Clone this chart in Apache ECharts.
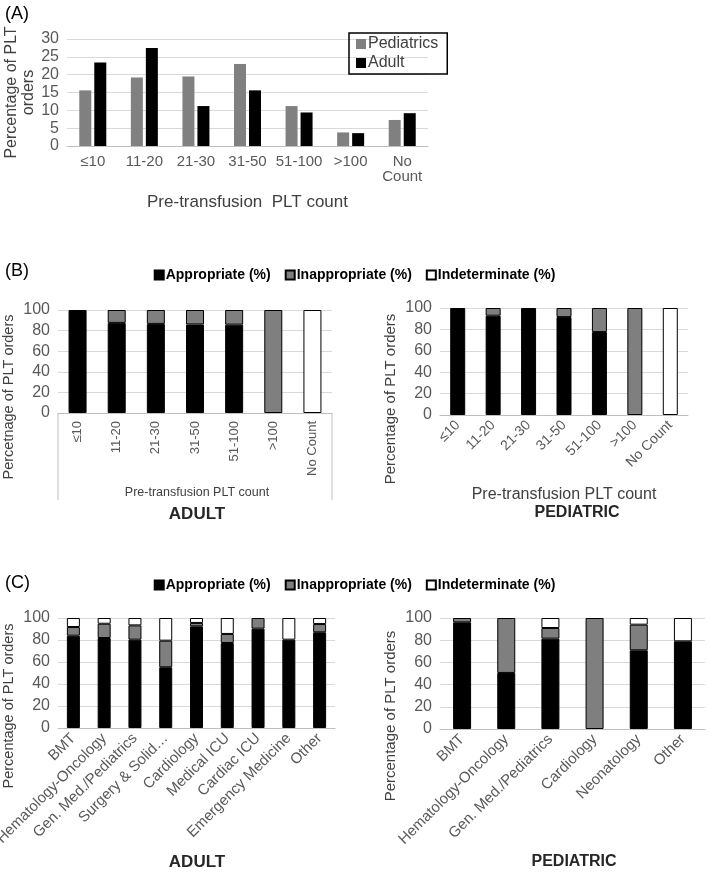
<!DOCTYPE html>
<html>
<head>
<meta charset="utf-8">
<script src="https://cdn.jsdelivr.net/npm/echarts@6/dist/echarts.min.js"></script>
<style>
  html, body { margin: 0; padding: 0; background: #fff; }
  #main { width: 709px; height: 872px; }
</style>
</head>
<body>
<div id="main"></div>
<script>
// panel A
const countCats = ['≤10', '11-20', '21-30', '31-50', '51-100', '>100', 'No\nCount'];
const pediatricPct = [15.6, 19.2, 19.5, 23.0, 11.2, 3.8, 7.3];
const adultPct = [23.4, 27.5, 11.2, 15.6, 9.4, 3.6, 9.2];

// panel B
const countCatsB = ['≤10', '11-20', '21-30', '31-50', '51-100', '>100', 'No Count'];
const adultCountApp = [100, 87.5, 86.5, 86, 85.8, 0, 0];
const adultCountInapp = [0, 12.5, 13.5, 14, 14.2, 100, 0];
const adultCountIndet = [0, 0, 0, 0, 0, 0, 100];
const pedCountApp = [100, 92.8, 100, 91.5, 77.5, 0, 0];
const pedCountInapp = [0, 7.2, 0, 8.5, 22.5, 100, 0];
const pedCountIndet = [0, 0, 0, 0, 0, 0, 100];

// panel C
const adultServices = ['BMT', 'Hematology-Oncology', 'Gen. Med./Pediatrics', 'Surgery & Solid…', 'Cardiology', 'Medical ICU', 'Cardiac ICU', 'Emergency Medicine', 'Other'];
const adultSvcApp = [83.9, 81.8, 80.3, 55.2, 92.4, 77.3, 90.3, 80.3, 87];
const adultSvcInapp = [7.9, 13, 13, 24.2, 3.1, 8.2, 9.7, 0, 7.5];
const adultSvcIndet = [8.2, 5.2, 6.7, 20.6, 4.5, 14.5, 0, 19.7, 5.5];
const pedServices = ['BMT', 'Hematology-Oncology', 'Gen. Med./Pediatrics', 'Cardiology', 'Neonatology', 'Other'];
const pedSvcApp = [96.1, 50.5, 81.4, 0, 70.9, 79];
const pedSvcInapp = [3.9, 49.5, 9.6, 100, 23.1, 0];
const pedSvcIndet = [0, 0, 9, 0, 6, 21];

const groupNames = ['Appropriate (%)', 'Inappropriate (%)', 'Indeterminate (%)'];
const groupColors = ['#000000', '#7f7f7f', '#ffffff'];

const FONT = 'Liberation Sans, Arial, sans-serif';
const tickColor = '#595959';

function nz(arr) { return arr.map(v => v === 0 ? null : v); }

function catAxis(idx, cats, rotate, fontSize) {
  return {
    type: 'category', gridIndex: idx, data: cats,
    axisTick: { show: false },
    axisLine: { lineStyle: { color: '#bfbfbf' } },
    axisLabel: { color: tickColor, fontFamily: FONT, fontSize: fontSize, rotate: rotate, interval: 0, margin: 8 }
  };
}
function valAxis(idx, max, interval, fontSize) {
  return {
    type: 'value', gridIndex: idx, min: 0, max: max, interval: interval,
    axisLine: { show: false }, axisTick: { show: false },
    splitLine: { lineStyle: { color: '#d9d9d9', width: 1 } },
    axisLabel: { color: tickColor, fontFamily: FONT, fontSize: fontSize, margin: 8 }
  };
}
function stackSeries(idx, stackId, app, inapp, indet, width) {
  return [app, inapp, indet].map((d, i) => ({
    name: groupNames[i], type: 'bar', stack: stackId,
    xAxisIndex: idx, yAxisIndex: idx,
    barWidth: width, data: nz(d),
    itemStyle: { color: groupColors[i], borderColor: '#000', borderWidth: 1 }
  }));
}
function txt(x, y, s, size, opts) {
  return Object.assign({
    type: 'text', x: x, y: y,
    style: Object.assign({ text: s, font: size + 'px ' + FONT, fill: '#404040', align: 'center', verticalAlign: 'middle' }, opts && opts.style)
  }, opts && opts.el);
}

const legendBase = {
  data: groupNames, icon: 'rect', itemWidth: 9, itemHeight: 9, itemGap: 14,
  textStyle: { fontFamily: FONT, fontSize: 14, fontWeight: 'bold', color: '#000', padding: [0, 0, 0, -3] },
  selectedMode: false
};

const chart = echarts.init(document.getElementById('main'));
chart.setOption({
  animation: false,
  backgroundColor: '#fff',
  grid: [
    { left: 67, top: 39, width: 361, height: 107, outerBoundsMode: 'none' },
    { left: 58, top: 310, width: 274, height: 103, outerBoundsMode: 'none' },
    { left: 440, top: 308, width: 248, height: 107, outerBoundsMode: 'none' },
    { left: 58, top: 618, width: 277, height: 110, outerBoundsMode: 'none' },
    { left: 440, top: 618, width: 265, height: 111, outerBoundsMode: 'none' }
  ],
  legend: [
    {
      data: ['Pediatrics', 'Adult'], orient: 'vertical', left: 349, top: 33,
      icon: 'rect', itemWidth: 10, itemHeight: 10, itemGap: 3,
      padding: [3, 9, 3, 7], borderColor: '#000', borderWidth: 1.5,
      textStyle: { fontFamily: FONT, fontSize: 16, color: '#404040', padding: [0, 0, 0, -3] },
      selectedMode: false
    },
    Object.assign({}, legendBase, { left: 'center', top: 263 }),
    Object.assign({}, legendBase, { left: 'center', top: 573 })
  ],
  xAxis: [
    Object.assign(catAxis(0, countCats, 0, 15), {
      name: 'Pre-transfusion  PLT count', nameLocation: 'middle', nameGap: 48,
      nameTextStyle: { color: '#404040', fontFamily: FONT, fontSize: 17 }
    }),
    catAxis(1, countCatsB, 90, 13),
    Object.assign(catAxis(2, countCatsB, 45, 14), {
      name: 'Pre-transfusion PLT count', nameLocation: 'middle', nameGap: 72,
      nameTextStyle: { color: '#404040', fontFamily: FONT, fontSize: 16 }
    }),
    catAxis(3, adultServices, 45, 15),
    catAxis(4, pedServices, 45, 15)
  ],
  yAxis: [
    Object.assign(valAxis(0, 30, 5, 16), {
      name: 'Percentage of PLT\norders', nameLocation: 'middle', nameGap: 30, nameMoveOverlap: false,
      nameTextStyle: { color: '#404040', fontFamily: FONT, fontSize: 16, lineHeight: 17 }
    }),
    valAxis(1, 100, 20, 16),
    valAxis(2, 100, 20, 16),
    valAxis(3, 100, 20, 16),
    valAxis(4, 100, 20, 16)
  ],
  series: [
    { name: 'Pediatrics', type: 'bar', xAxisIndex: 0, yAxisIndex: 0, data: pediatricPct,
      barWidth: 12, barGap: '25%', itemStyle: { color: '#808080' } },
    { name: 'Adult', type: 'bar', xAxisIndex: 0, yAxisIndex: 0, data: adultPct,
      barWidth: 12, barGap: '25%', itemStyle: { color: '#000' } }
  ].concat(
    stackSeries(1, 'bAdult', adultCountApp, adultCountInapp, adultCountIndet, 18),
    stackSeries(2, 'bPed', pedCountApp, pedCountInapp, pedCountIndet, 15),
    stackSeries(3, 'cAdult', adultSvcApp, adultSvcInapp, adultSvcIndet, 13),
    stackSeries(4, 'cPed', pedSvcApp, pedSvcInapp, pedSvcIndet, 18)
  ),
  graphic: [
    txt(5, 14, '(A)', 18, { style: { align: 'left', fill: '#000' } }),
    txt(5, 271, '(B)', 18, { style: { align: 'left', fill: '#000' } }),
    txt(5, 583, '(C)', 18, { style: { align: 'left', fill: '#000' } }),
    // panel B adult: bracketed axis caption
    { type: 'line', shape: { x1: 58, y1: 413, x2: 58, y2: 500 }, style: { stroke: '#bfbfbf', lineWidth: 1 } },
    { type: 'line', shape: { x1: 332, y1: 413, x2: 332, y2: 500 }, style: { stroke: '#bfbfbf', lineWidth: 1 } },
    txt(197, 493, 'Pre-transfusion PLT count', 12.5),
    txt(197, 514, 'ADULT', 17, { style: { font: 'bold 17px ' + FONT, fill: '#262626' } }),
    txt(577, 513, 'PEDIATRIC', 16, { style: { font: 'bold 16px ' + FONT, fill: '#262626' } }),
    txt(197, 862, 'ADULT', 17, { style: { font: 'bold 17px ' + FONT, fill: '#262626' } }),
    txt(574, 862, 'PEDIATRIC', 16, { style: { font: 'bold 16px ' + FONT, fill: '#262626' } }),
    // y axis names
    txt(9, 397, 'Percetnage of PLT orders', 14.5, { el: { rotation: Math.PI / 2 } }),
    txt(391, 399, 'Percentage of PLT orders', 15, { el: { rotation: Math.PI / 2 } }),
    txt(9, 706, 'Percentage of PLT orders', 14.5, { el: { rotation: Math.PI / 2 } }),
    txt(391, 716, 'Percentage of PLT orders', 15, { el: { rotation: Math.PI / 2 } })
  ]
});
</script>
</body>
</html>
